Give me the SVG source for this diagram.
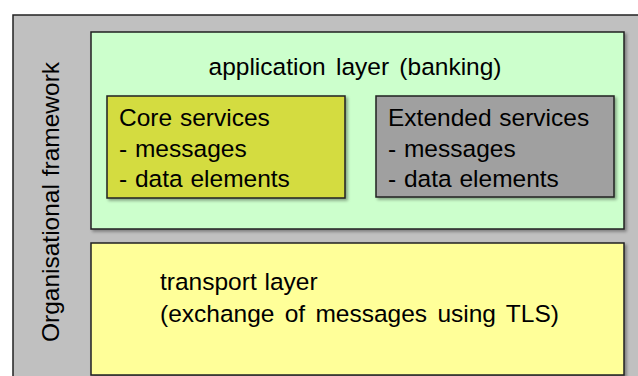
<svg xmlns="http://www.w3.org/2000/svg" width="638" height="376" viewBox="0 0 638 376">
<style>
text{font-family:"Liberation Sans",Arial,sans-serif;font-size:24.5px;fill:#000;word-spacing:1px}
.ws{word-spacing:3.5px}
.box{stroke:#222;stroke-width:1.5}
</style>
<defs>
<filter id="sh" x="-5%" y="-5%" width="115%" height="115%">
<feDropShadow dx="2" dy="2" stdDeviation="1.5" flood-color="#000" flood-opacity="0.35"/>
</filter>
</defs>
<rect width="638" height="376" fill="#fff"/>
<g id="framework">
<rect class="box" x="13" y="15" width="640" height="380" fill="#c0c0c0"/>
<text transform="translate(59,202) rotate(-90)" text-anchor="middle">Organisational framework</text>
</g>
<g id="application">
<rect class="box" x="91" y="32" width="533" height="197" fill="#ccffcc" filter="url(#sh)"/>
<text class="ws" x="355" y="75" text-anchor="middle">application layer (banking)</text>
</g>
<g id="core">
<rect class="box" x="107" y="96" width="238" height="102" fill="#d4dc40" filter="url(#sh)"/>
<text x="119" y="126">Core services</text>
<text x="119" y="157">- messages</text>
<text x="119" y="187">- data elements</text>
</g>
<g id="extended">
<rect class="box" x="376" y="96" width="238" height="101" fill="#a0a0a0" filter="url(#sh)"/>
<text x="388" y="126">Extended services</text>
<text x="388" y="157">- messages</text>
<text x="388" y="187">- data elements</text>
</g>
<g id="transport">
<rect class="box" x="91" y="243" width="533" height="132" fill="#ffff99" filter="url(#sh)"/>
<text x="160" y="290">transport layer</text>
<text class="ws" x="160" y="322">(exchange of messages using TLS)</text>
</g>
<g id="connectors"/>
</svg>
